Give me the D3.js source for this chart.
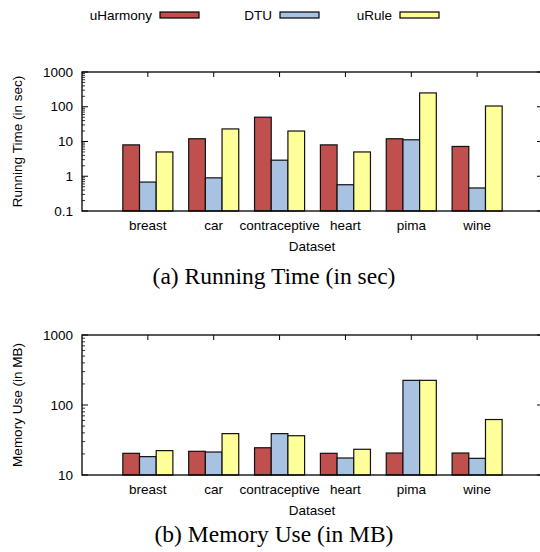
<!DOCTYPE html>
<html>
<head>
<meta charset="utf-8">
<script src="https://cdn.jsdelivr.net/npm/d3@7"></script>
<style>
  body { margin: 0; background: #fff; }
  text { font-family: "Liberation Sans", Arial, sans-serif; fill: #000; }
  .caption { font-family: "Liberation Serif", "Times New Roman", serif; }
</style>
</head>
<body>
<div id="chart"></div>
<script>
// --------------------------------------
//  Data
// --------------------------------------

const datasets = ["breast", "car", "contraceptive", "heart", "pima", "wine"];
const methods = ["uHarmony", "DTU", "uRule"];

// running time, seconds
const timeHarmony = [8, 12, 50, 8, 12, 7.2];
const timeDTU = [0.68, 0.9, 2.9, 0.57, 11.2, 0.46];
const timeRule = [5, 23, 20, 5, 250, 105];

// memory use, MB
const memHarmony = [20.4, 21.8, 24.5, 20.4, 20.6, 20.6];
const memDTU = [18.3, 21.3, 39, 17.5, 225, 17.3];
const memRule = [22.3, 39, 36.4, 23.3, 225, 62];

const timeTicks = [0.1, 1, 10, 100, 1000];
const memTicks = [10, 100, 1000];

// --------------------------------------
//  Canvas
// --------------------------------------

const W = 540, H = 552;
const left = 82, right = 543;

const svg = d3.select("#chart")
  .append("svg")
  .attr("width", W)
  .attr("height", H);

const color = d3.scaleOrdinal()
  .domain(methods)
  .range(["#c0504d", "#a8c2e2", "#ffff99"]);

const x = d3.scaleBand()
  .domain(datasets)
  .range([left, right])
  .paddingInner(0.24)
  .paddingOuter(0.62);

const xs = d3.scaleBand()
  .domain(methods)
  .range([0, x.bandwidth()]);

// --------------------------------------
//  Legend
// --------------------------------------

const legendX = [{ t: 152, s: 160 }, { t: 272, s: 280 }, { t: 392, s: 400 }];

const legend = svg.append("g")
  .selectAll("g")
  .data(methods)
  .join("g");

legend.append("text")
  .attr("x", (d, i) => legendX[i].t)
  .attr("y", 15)
  .attr("dy", "0.35em")
  .attr("text-anchor", "end")
  .attr("font-size", 13.5)
  .text((d) => d);

legend.append("rect")
  .attr("x", (d, i) => legendX[i].s)
  .attr("y", 12)
  .attr("width", 39)
  .attr("height", 6)
  .attr("fill", (d) => color(d))
  .attr("stroke", "#000")
  .attr("stroke-width", 1.2);

// --------------------------------------
//  Panels
// --------------------------------------

function panel(opts) {
  const g = svg.append("g");
  const y = d3.scaleLog()
    .domain([opts.ticks[0], opts.ticks[opts.ticks.length - 1]])
    .range([opts.bottom, opts.top]);

  // minor ticks 2..9 in every decade, left and right
  const minor = [];
  for (let k = 0; k < opts.ticks.length - 1; k++) {
    for (let m = 2; m <= 9; m++) minor.push(opts.ticks[k] * m);
  }
  g.append("g")
    .selectAll("line")
    .data(minor)
    .join("line")
    .attr("x1", left).attr("x2", left + 3)
    .attr("y1", (d) => y(d)).attr("y2", (d) => y(d))
    .attr("stroke", "#000").attr("stroke-width", 0.8);
  g.append("g")
    .selectAll("line")
    .data(minor)
    .join("line")
    .attr("x1", right).attr("x2", right - 3)
    .attr("y1", (d) => y(d)).attr("y2", (d) => y(d))
    .attr("stroke", "#000").attr("stroke-width", 0.8);

  // major ticks, left and right
  g.append("g")
    .selectAll("line")
    .data(opts.ticks)
    .join("line")
    .attr("x1", left).attr("x2", left + 6)
    .attr("y1", (d) => y(d)).attr("y2", (d) => y(d))
    .attr("stroke", "#000").attr("stroke-width", 1);
  g.append("g")
    .selectAll("line")
    .data(opts.ticks)
    .join("line")
    .attr("x1", right).attr("x2", right - 6)
    .attr("y1", (d) => y(d)).attr("y2", (d) => y(d))
    .attr("stroke", "#000").attr("stroke-width", 1);

  g.append("g")
    .selectAll("text")
    .data(opts.ticks)
    .join("text")
    .attr("x", left - 9)
    .attr("y", (d) => y(d))
    .attr("dy", "0.35em")
    .attr("text-anchor", "end")
    .attr("font-size", 13.5)
    .text((d) => String(d));

  // category ticks top and bottom
  g.append("g")
    .selectAll("line")
    .data(datasets)
    .join("line")
    .attr("x1", (d) => x(d) + x.bandwidth() / 2)
    .attr("x2", (d) => x(d) + x.bandwidth() / 2)
    .attr("y1", opts.top).attr("y2", opts.top + 5)
    .attr("stroke", "#000").attr("stroke-width", 1);
  g.append("g")
    .selectAll("line")
    .data(datasets)
    .join("line")
    .attr("x1", (d) => x(d) + x.bandwidth() / 2)
    .attr("x2", (d) => x(d) + x.bandwidth() / 2)
    .attr("y1", opts.bottom).attr("y2", opts.bottom - 5)
    .attr("stroke", "#000").attr("stroke-width", 1);

  // bars
  const groups = g.append("g")
    .selectAll("g")
    .data(datasets)
    .join("g")
    .attr("transform", (d) => `translate(${x(d)},0)`);

  groups.selectAll("rect")
    .data((d, i) => methods.map((m, j) => ({ m: m, v: opts.series[j][i] })))
    .join("rect")
    .attr("x", (d) => xs(d.m))
    .attr("width", xs.bandwidth())
    .attr("y", (d) => y(d.v))
    .attr("height", (d) => opts.bottom - y(d.v))
    .attr("fill", (d) => color(d.m))
    .attr("stroke", "#111")
    .attr("stroke-width", 1.2);

  // frame
  g.append("rect")
    .attr("x", left).attr("y", opts.top)
    .attr("width", right - left).attr("height", opts.bottom - opts.top)
    .attr("fill", "none")
    .attr("stroke", "#000")
    .attr("stroke-width", 1.3);

  // category labels
  g.append("g")
    .selectAll("text")
    .data(datasets)
    .join("text")
    .attr("x", (d) => x(d) + x.bandwidth() / 2)
    .attr("y", opts.bottom + 19)
    .attr("text-anchor", "middle")
    .attr("font-size", 13.5)
    .text((d) => d);

  g.append("text")
    .attr("x", 312)
    .attr("y", opts.bottom + 40)
    .attr("text-anchor", "middle")
    .attr("font-size", 13.5)
    .text("Dataset");

  g.append("text")
    .attr("transform", `translate(21.5,${(opts.top + opts.bottom) / 2}) rotate(-90)`)
    .attr("text-anchor", "middle")
    .attr("font-size", 13.5)
    .text(opts.ylabel);

  g.append("text")
    .attr("class", "caption")
    .attr("x", 274)
    .attr("y", opts.captionY)
    .attr("text-anchor", "middle")
    .attr("font-size", 23.5)
    .text(opts.caption);
}

panel({
  top: 72, bottom: 211,
  ticks: timeTicks,
  series: [timeHarmony, timeDTU, timeRule],
  ylabel: "Running Time (in sec)",
  caption: "(a) Running Time (in sec)",
  captionY: 284
});

panel({
  top: 335, bottom: 475,
  ticks: memTicks,
  series: [memHarmony, memDTU, memRule],
  ylabel: "Memory Use (in MB)",
  caption: "(b) Memory Use (in MB)",
  captionY: 541.5
});
</script>
</body>
</html>
